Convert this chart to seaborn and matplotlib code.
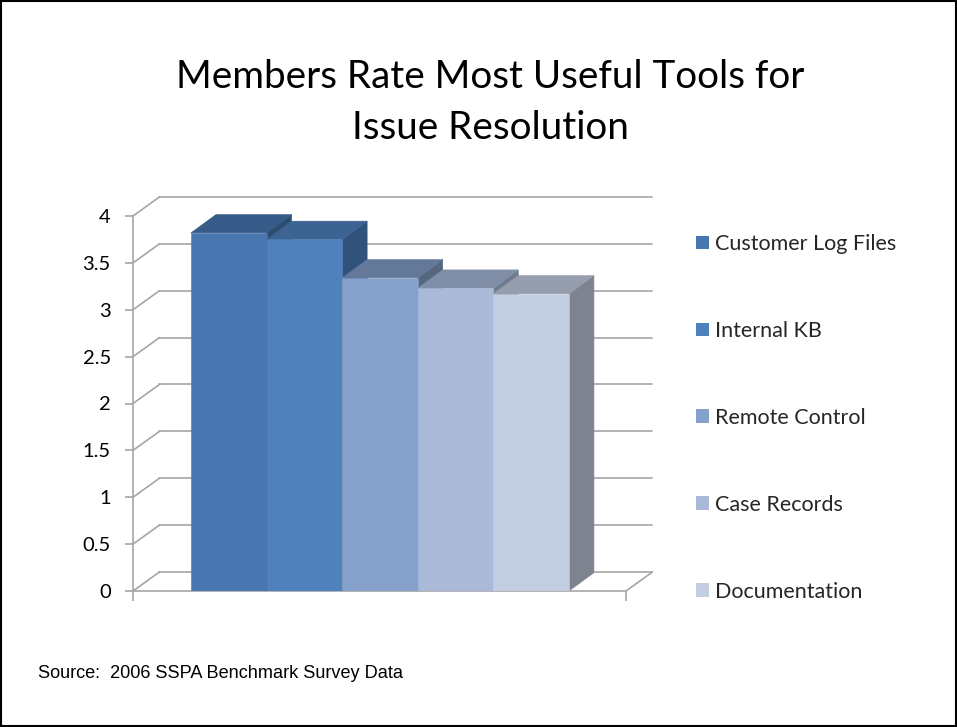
import matplotlib
matplotlib.use("Agg")
import matplotlib.pyplot as plt
import seaborn as sns
from matplotlib.patches import Polygon, Rectangle

# data
tools = ['Customer Log Files', 'Internal KB', 'Remote Control', 'Case Records', 'Documentation']
ratings = [3.82, 3.75, 3.34, 3.23, 3.17]
ytick_values = [0, 0.5, 1, 1.5, 2, 2.5, 3, 3.5, 4]
ytick_labels = ['0', '0.5', '1', '1.5', '2', '2.5', '3', '3.5', '4']

# colours of the three visible faces of each bar
front_colors = ['#4776b0', '#4f81bd', '#86a1cc', '#aab9d7', '#c4cee2']
top_colors = ['#375b88', '#3c6391', '#647999', '#818ea7', '#969ead']
side_colors = ['#2e4b71', '#31527a', '#55667f', '#6f7b8e', '#7e848f']
grid_c = '#a6a6a6'

sns.set_theme(style='white')
plt.rcParams['font.family'] = ['Lato', 'DejaVu Sans']

W, H = 957, 727
fig = plt.figure(figsize=(W / 100, H / 100), dpi=100)

# front plane of the 3d box (pixel layout of the reference)
x_l, x_r = -1.267, 5.254
dx, dy = 0.35, 0.203          # depth of floor / walls in data units
bdx, bdy = 0.33, 0.195        # depth of bars
y_top = 4 + dy + 0.012
px_x = 75.6
px_y = 93.75
ax_w = (x_r + dx - x_l) * px_x
ax_h = y_top * px_y
ax = fig.add_axes([133 / W, (H - 591) / H, ax_w / W, ax_h / H])

sns.barplot(x=tools, y=ratings, hue=tools, palette=front_colors, width=1,
            saturation=1, ax=ax, legend=True, linewidth=0)

# back wall gridlines and the diagonals joining them to the front axis
for v in ytick_values:
    ax.plot([x_l, x_l + dx], [v, v + dy], color=grid_c, lw=1.2, zorder=1, clip_on=False)
    ax.plot([x_l + dx, x_r + dx], [v + dy, v + dy], color=grid_c, lw=1.2, zorder=1, clip_on=False)
ax.plot([x_r, x_r + dx], [0, dy], color=grid_c, lw=1.2, zorder=1, clip_on=False)
ax.plot([x_l, x_r], [0, 0], color=grid_c, lw=1.2, zorder=1, clip_on=False)
ax.plot([x_l, x_l], [0, 4], color=grid_c, lw=1.2, zorder=1, clip_on=False)

# add top and side faces to the bars seaborn drew
for i, bar in enumerate(ax.patches[:len(tools)]):
    x0, w, h = bar.get_x(), bar.get_width(), bar.get_height()
    bar.set_zorder(3 + i)
    bar.set_edgecolor(front_colors[i])
    bar.set_linewidth(0.4)
    side = Polygon([(x0 + w, 0), (x0 + w + bdx, bdy), (x0 + w + bdx, h + bdy), (x0 + w, h)],
                   closed=True, facecolor=side_colors[i], edgecolor=side_colors[i],
                   lw=0.4, zorder=2.5 + i, clip_on=False)
    top = Polygon([(x0, h), (x0 + w, h), (x0 + w + bdx, h + bdy), (x0 + bdx, h + bdy)],
                  closed=True, facecolor=top_colors[i], edgecolor=top_colors[i],
                  lw=0.4, zorder=2.5 + i, clip_on=False)
    ax.add_patch(side)
    ax.add_patch(top)

ax.set_xlim(x_l, x_r + dx)
ax.set_ylim(0, y_top)
ax.set_yticks(ytick_values)
ax.set_yticklabels(ytick_labels)
ax.set_xticks([x_l, x_r])
ax.set_xticklabels(['', ''])
ax.set_xlabel('')
ax.set_ylabel('')
ax.tick_params(axis='y', left=True, length=6, width=1.2, color=grid_c, pad=10,
               labelsize=14.5, labelcolor='black')
ax.tick_params(axis='x', bottom=True, length=7, width=1.2, color=grid_c)
for s in ax.spines.values():
    s.set_visible(False)
ax.patch.set_alpha(0)

sns.move_legend(ax, 'upper left', bbox_to_anchor=(696 / W, 1 - 234 / H),
                bbox_transform=fig.transFigure, frameon=False, title=None,
                fontsize=15.5, labelspacing=3.11, handlelength=0.6, handleheight=0.6,
                handletextpad=0.3, borderpad=0, borderaxespad=0)

fig.text(490 / W, 1 - 88 / H, 'Members Rate Most Useful Tools for', ha='center',
         va='baseline', fontsize=27.8, color='black')
fig.text(490 / W, 1 - 139 / H, 'Issue Resolution', ha='center', va='baseline',
         fontsize=27.8, color='black')
fig.text(38 / W, 1 - 678 / H, 'Source:  2006 SSPA Benchmark Survey Data',
         ha='left', va='baseline', fontsize=13.1, family='Liberation Sans', color='black')

fig.patches.append(Rectangle((0.001, 0.001), 0.998, 0.998, transform=fig.transFigure,
                             fill=False, edgecolor='black', lw=1.5))

fig.savefig('out.png', dpi=100)
